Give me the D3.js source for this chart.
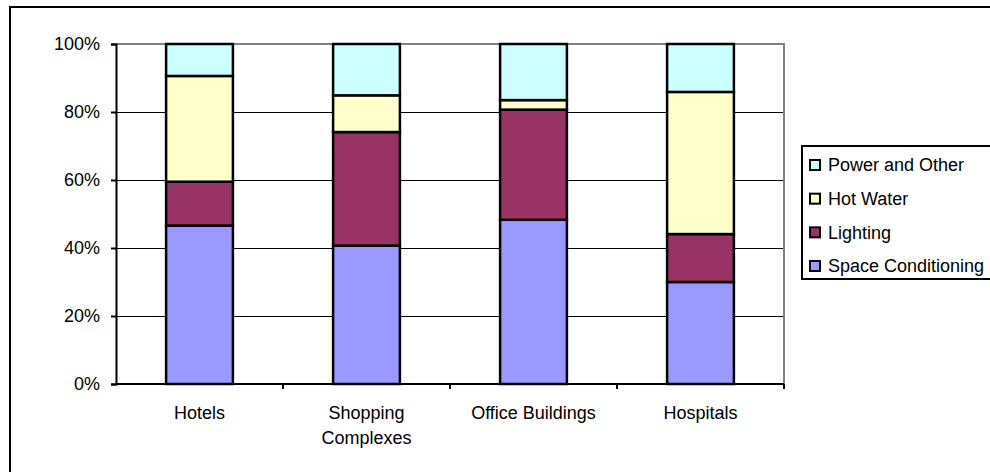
<!DOCTYPE html>
<html>
<head>
<meta charset="utf-8">
<script src="https://cdn.jsdelivr.net/npm/d3@7"></script>
<style>
  html, body { margin: 0; padding: 0; background: #fff; }
  svg { display: block; font-family: "Liberation Sans", Arial, sans-serif; }
</style>
</head>
<body>
<svg id="chart" width="990" height="472"></svg>
<script>
// Building types (x axis)
const categories = ["Hotels", "Shopping Complexes", "Office Buildings", "Hospitals"];
// End-use series, stacked bottom to top (percent of total energy use)
const seriesNames = ["Space Conditioning", "Lighting", "Hot Water", "Power and Other"];
const spaceConditioning = [46.6, 40.7, 48.3, 30.0];
const lighting          = [12.9, 33.4, 32.4, 14.1];
const hotWater          = [31.1, 10.8,  2.8, 41.8];
const powerAndOther     = [ 9.4, 15.1, 16.5, 14.1];
const seriesColors = ["#9999FF", "#993366", "#FFFFCC", "#CCFFFF"];
const yTicks = [0, 20, 40, 60, 80, 100];

const FONT_SIZE = 18;

const rows = categories.map((c, i) => ({
  category: c,
  "Space Conditioning": spaceConditioning[i],
  "Lighting": lighting[i],
  "Hot Water": hotWater[i],
  "Power and Other": powerAndOther[i]
}));

const svg = d3.select("#chart");

// Outer chart frame
svg.append("rect")
  .attr("x", 10).attr("y", 7)
  .attr("width", 1000).attr("height", 500)
  .attr("fill", "none").attr("stroke", "#000").attr("stroke-width", 2);

const plot = { left: 116, right: 784, top: 44, bottom: 384 };

const x = d3.scaleBand()
  .domain(categories)
  .range([plot.left, plot.right])
  .paddingInner(0.6)
  .paddingOuter(0.3);

const y = d3.scaleLinear().domain([0, 100]).range([plot.bottom, plot.top]);

// Gridlines
svg.append("g")
  .selectAll("line")
  .data(yTicks.filter(t => t > 0 && t < 100))
  .join("line")
  .attr("x1", plot.left).attr("x2", plot.right)
  .attr("y1", d => y(d) + 0.5).attr("y2", d => y(d) + 0.5)
  .attr("stroke", "#000").attr("stroke-width", 1)
  .attr("shape-rendering", "crispEdges");

// Plot area border (top and right)
svg.append("path")
  .attr("d", `M${plot.left},${plot.top}H${plot.right}V${plot.bottom}`)
  .attr("fill", "none").attr("stroke", "#808080").attr("stroke-width", 2);

// Stacked bars
const stack = d3.stack().keys(seriesNames);
const stacked = stack(rows);
const color = d3.scaleOrdinal().domain(seriesNames).range(seriesColors);

svg.append("g")
  .selectAll("g")
  .data(stacked)
  .join("g")
  .attr("fill", d => color(d.key))
  .selectAll("rect")
  .data(d => d)
  .join("rect")
  .attr("x", d => x(d.data.category))
  .attr("width", x.bandwidth())
  .attr("y", d => y(d[1]))
  .attr("height", d => y(d[0]) - y(d[1]))
  .attr("stroke", "#000")
  .attr("stroke-width", 2.5);

// Y axis
const yAxis = d3.axisLeft(y)
  .tickValues(yTicks)
  .tickFormat(d => d + "%")
  .tickSize(5)
  .tickPadding(11);
const yG = svg.append("g")
  .attr("transform", `translate(${plot.left},0)`)
  .call(yAxis);
yG.select(".domain").attr("stroke", "#000").attr("stroke-width", 2);
yG.selectAll(".tick line").attr("stroke", "#000").attr("stroke-width", 2);
yG.selectAll(".tick text")
  .attr("font-size", FONT_SIZE)
  .attr("fill", "#000")
  .attr("font-family", "Liberation Sans, Arial, sans-serif");

// X axis line and tick marks at category boundaries
svg.append("line")
  .attr("x1", plot.left).attr("x2", plot.right)
  .attr("y1", plot.bottom).attr("y2", plot.bottom)
  .attr("stroke", "#000").attr("stroke-width", 2);

const step = x.step();
const boundaries = categories.map(c => x(c) - (step - x.bandwidth()) / 2).concat([plot.right]);
svg.append("g")
  .selectAll("line")
  .data(boundaries.slice(1))
  .join("line")
  .attr("x1", d => d).attr("x2", d => d)
  .attr("y1", plot.bottom).attr("y2", plot.bottom + 5)
  .attr("stroke", "#000").attr("stroke-width", 2);

// Category labels (wrapped)
const labelLines = {
  "Hotels": ["Hotels"],
  "Shopping Complexes": ["Shopping", "Complexes"],
  "Office Buildings": ["Office Buildings"],
  "Hospitals": ["Hospitals"]
};
const xl = svg.append("g");
categories.forEach(c => {
  const cx = x(c) + x.bandwidth() / 2;
  const t = xl.append("text")
    .attr("x", cx)
    .attr("y", 419)
    .attr("text-anchor", "middle")
    .attr("font-size", FONT_SIZE)
    .attr("fill", "#000");
  labelLines[c].forEach((line, i) => {
    t.append("tspan")
      .attr("x", cx)
      .attr("dy", i === 0 ? 0 : 25)
      .text(line);
  });
});

// Legend (top series first)
const legend = svg.append("g");
legend.append("rect")
  .attr("x", 802).attr("y", 146)
  .attr("width", 220).attr("height", 133)
  .attr("fill", "#fff").attr("stroke", "#000").attr("stroke-width", 2);

const legendItems = seriesNames.slice().reverse();
const ly = d3.scalePoint().domain(legendItems).range([165, 266]);
const li = legend.selectAll("g.item")
  .data(legendItems)
  .join("g")
  .attr("class", "item")
  .attr("transform", d => `translate(0,${ly(d)})`);
li.append("rect")
  .attr("x", 810).attr("y", -5)
  .attr("width", 10).attr("height", 10)
  .attr("fill", d => color(d))
  .attr("stroke", "#000").attr("stroke-width", 2);
li.append("text")
  .attr("x", 828).attr("y", 0)
  .attr("dy", "0.36em")
  .attr("font-size", FONT_SIZE)
  .attr("fill", "#000")
  .text(d => d);
</script>
</body>
</html>
